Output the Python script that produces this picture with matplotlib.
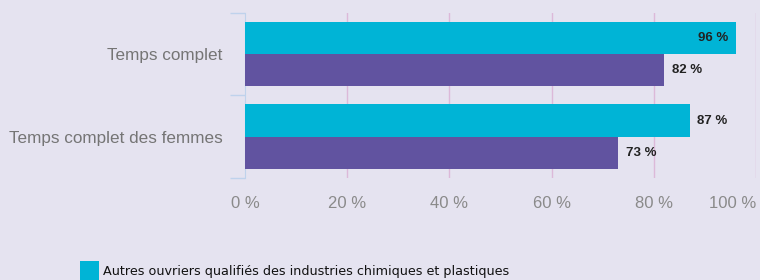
import numpy as np
import matplotlib.pyplot as plt
from matplotlib.patches import Rectangle

categories = ['Temps complet', 'Temps complet des femmes']
series_names = ['Autres ouvriers qualifiés des industries chimiques et plastiques',
                'Ensemble des salariés']
values_metier = [96, 87]
values_ensemble = [82, 73]
xticks = [0, 20, 40, 60, 80, 100]

bg = '#e5e3f0'
cyan = '#00b4d6'
purple = '#6153a0'

plt.rcParams['font.family'] = ['Liberation Sans', 'DejaVu Sans']

fig = plt.figure(figsize=(7.6, 2.8), dpi=100, facecolor=bg)
ax = fig.add_axes([245/760, 1 - 178/280, 511/760, 165.3/280], facecolor=bg)

y = np.arange(len(categories))
h = 0.39
ax.barh(y - h/2, values_metier, height=h, color=cyan, zorder=3)
ax.barh(y + h/2, values_ensemble, height=h, color=purple, zorder=3)

lab_font = dict(fontsize=9.5, fontweight='bold', color='#222222', va='center', zorder=4)
for i, v in enumerate(values_metier):
    if v > 92:
        ax.text(v - 1.5, i - h/2, f'{v} %', ha='right', **lab_font)
    else:
        ax.text(v + 1.5, i - h/2, f'{v} %', ha='left', **lab_font)
for i, v in enumerate(values_ensemble):
    ax.text(v + 1.5, i + h/2, f'{v} %', ha='left', **lab_font)

ax.set_xlim(0, 100)
ax.set_ylim(len(categories) - 0.5, -0.5)
ax.set_xticks(xticks)
ax.set_xticklabels([f'{t} %' for t in xticks])
ax.set_yticks(y)
ax.set_yticklabels(categories)
ax.set_yticks(np.arange(len(categories) + 1) - 0.5, minor=True)
ax.tick_params(axis='x', length=0, pad=13, labelsize=12, labelcolor='#8a8a8a')
ax.tick_params(axis='y', which='major', length=0, pad=16, labelsize=12.3, labelcolor='#757575')
ax.tick_params(axis='y', which='minor', length=11, color='#bfd2ec', width=1)
ax.get_xticklabels()[-1].set_ha('right')
ax.get_xticklabels()[-1].set_x(100.5)

ax.grid(axis='x', color='#dcb9d9', linewidth=1, zorder=0)
ax.xaxis.get_gridlines()[0].set_visible(False)
for s in ['top', 'right', 'bottom']:
    ax.spines[s].set_visible(False)
ax.spines['left'].set_color('#bfd2ec')

# legend (only first entry visible in frame)
fig.patches.append(Rectangle((80/760, 0), 19/760, 19/280, transform=fig.transFigure,
                             facecolor=cyan, edgecolor='none'))
fig.text(103/760, 1 - 271/280, series_names[0], fontsize=9.2, family='DejaVu Sans',
         color='#111111', va='center', ha='left')

fig.savefig('out.png', dpi=100, facecolor=bg)
